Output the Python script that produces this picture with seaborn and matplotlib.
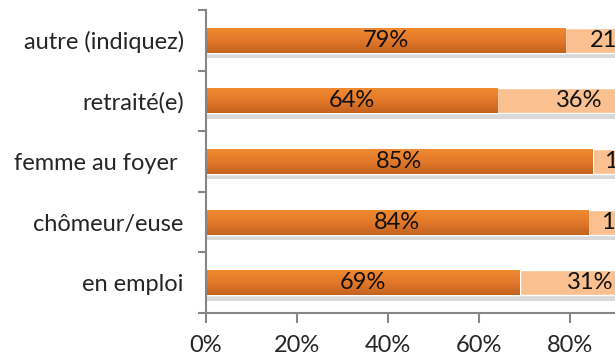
import matplotlib
matplotlib.use("Agg")
import matplotlib.pyplot as plt
import matplotlib.patheffects as pe
from matplotlib.colors import LinearSegmentedColormap
from matplotlib.ticker import FixedLocator, PercentFormatter
import numpy as np
import pandas as pd
import seaborn as sns

# ── Data ─────────────────────────────────────────────────────────────
categories = ["autre (indiquez)", "retraité(e)", "femme au foyer ", "chômeur/euse", "en emploi"]
share_yes = [79, 64, 85, 84, 69]
share_no = [21, 36, 15, 16, 31]

DARK = "#E2752A"
LIGHT = "#FAC090"
AXIS_GREY = "#868686"
FS = 17

sns.set_theme(style="white")
plt.rcParams["font.family"] = ["Lato", "DejaVu Sans"]
plt.rcParams["font.size"] = FS

df = pd.DataFrame({
    "cat": categories,
    "yes": share_yes,
    "no": share_no,
})
df["total"] = df["yes"] + df["no"]

fig = plt.figure(figsize=(6.15, 3.58), dpi=100)
# axes runs past the right edge of the picture (the reference is cropped)
ax = fig.add_axes([206 / 615, 45 / 358, 455 / 615, 303 / 358])

shadow = [pe.SimplePatchShadow(offset=(1, -4), shadow_rgbFace="#555555", alpha=0.22), pe.Normal()]

sns.barplot(data=df, x="total", y="cat", color=LIGHT, width=0.41,
            saturation=1, ax=ax, orient="h")
for p in ax.patches:
    p.set_path_effects(shadow)
n_light = len(ax.patches)
sns.barplot(data=df, x="yes", y="cat", color=DARK, width=0.41,
            saturation=1, ax=ax, orient="h")

# vertical gradient on the dark segments (Excel-ish look)
orange_grad = LinearSegmentedColormap.from_list("og", ["#F08A30", "#E2782A", "#C4621E"])
grad = np.linspace(0, 1, 64).reshape(-1, 1)
for p in ax.patches[n_light:]:
    bb = p.get_bbox()
    im = ax.imshow(grad, cmap=orange_grad, aspect="auto", origin="upper",
                   extent=[bb.x0, bb.x1, max(bb.y0, bb.y1), min(bb.y0, bb.y1)],
                   zorder=p.get_zorder() + 0.1)
    im.set_clip_path(p)

# labels centred in each segment
for i, (y, n) in enumerate(zip(share_yes, share_no)):
    ax.text(y / 2, i, f"{y}%", ha="center", va="center", fontsize=FS,
            color="#111111", zorder=5)
    ax.text(y + n / 2, i, f"{n}%", ha="center", va="center", fontsize=FS,
            color="#111111", clip_on=False, zorder=5)

ax.set_xlim(0, 100)
ax.set_ylim(len(categories) - 0.5, -0.5)
ax.xaxis.set_major_locator(FixedLocator([0, 20, 40, 60, 80, 100]))
ax.xaxis.set_major_formatter(PercentFormatter(100, decimals=0))
ax.yaxis.set_minor_locator(FixedLocator(np.arange(-0.5, len(categories), 1.0)))

ax.set_xlabel("")
ax.set_ylabel("")
for s in ["top", "right"]:
    ax.spines[s].set_visible(False)
for s in ["left", "bottom"]:
    ax.spines[s].set_color(AXIS_GREY)
    ax.spines[s].set_linewidth(1.5)

ax.tick_params(axis="x", which="major", direction="out", length=7, width=1.5,
               color=AXIS_GREY, pad=9, labelsize=FS, bottom=True)
ax.tick_params(axis="y", which="major", length=0, pad=16, labelsize=FS)
ax.tick_params(axis="y", which="minor", direction="out", length=6, width=1.5,
               color=AXIS_GREY, left=True)

fig.savefig("out.png", dpi=100)
